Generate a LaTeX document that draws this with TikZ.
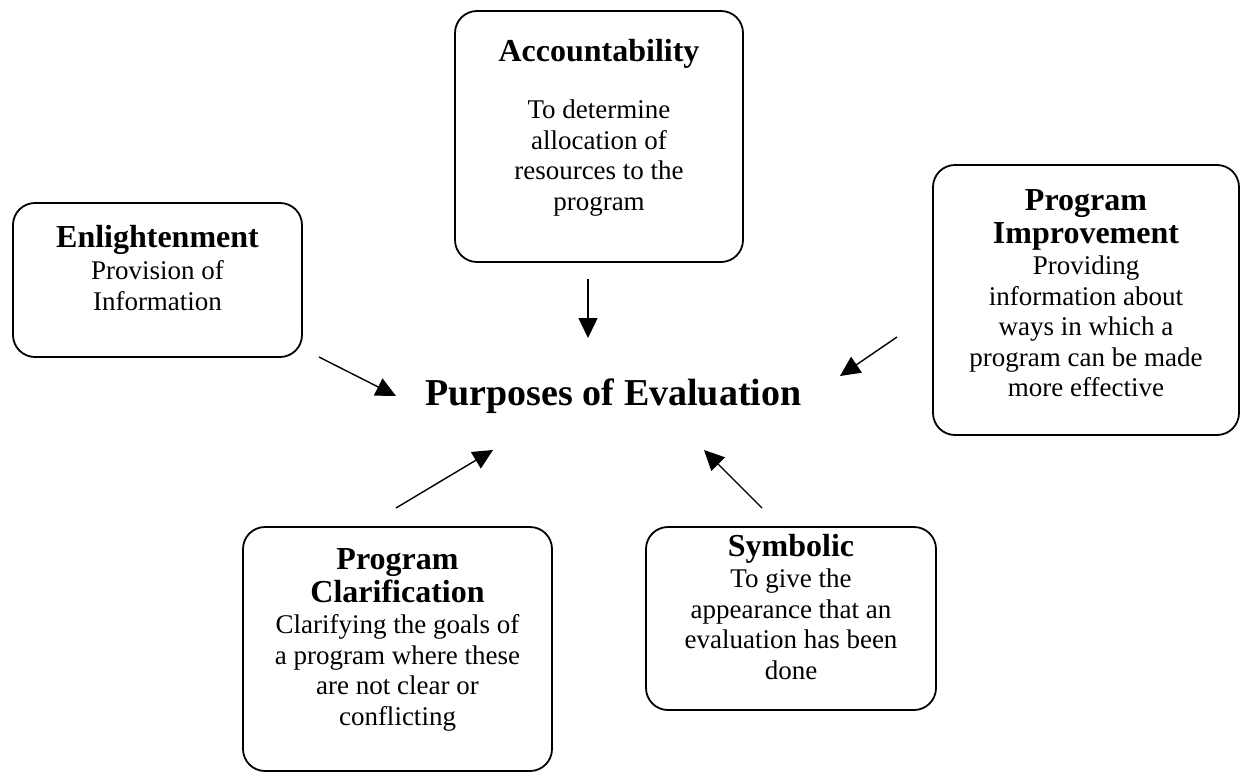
\documentclass[tikz,border=0pt]{standalone}
\usepackage{fontspec}
\setmainfont{Liberation Serif}
\usetikzlibrary{arrows.meta}

\newcommand\Ttl[1]{{\fontsize{32}{33}\selectfont\bfseries #1}}

\tikzset{
  purpbox/.style={draw, line width=1.8pt, rounded corners=22pt, align=center,
    inner sep=0pt, text depth=24pt, font=\fontsize{27}{30.5}\selectfont},
}

\begin{document}
\begin{tikzpicture}[x=1pt,y=-1pt,line width=1.4pt,>={Triangle[length=20pt,width=19pt]}]
        \useasboundingbox (0,0) rectangle (1248,774);
        % centre text
        \node[anchor=base,font=\fontsize{38}{40}\selectfont\bfseries] (purp) at (613.5,405) {Purposes of Evaluation};
        % the five boxes
        \node[purpbox,minimum width=288pt,minimum height=251pt] (acc) at (599,136.5)
            {\Ttl{Accountability}\\[27pt]To determine\\allocation of\\resources to the\\program};
        \node[purpbox,minimum width=289pt,minimum height=154pt] (enl) at (157.5,280)
            {\Ttl{Enlightenment}\\[1pt]Provision of\\[1pt]Information};
        \node[purpbox,minimum width=306pt,minimum height=270pt,text depth=13pt] (imp) at (1086,300)
            {\Ttl{Program}\\[2pt]\Ttl{Improvement}\\[1pt]Providing\\information about\\ways in which a\\program can be made\\more effective};
        \node[purpbox,minimum width=309pt,minimum height=244pt] (cla) at (397.5,649)
            {\Ttl{Program}\\[2pt]\Ttl{Clarification}\\[1pt]Clarifying the goals of\\a program where these\\are not clear or\\conflicting};
        \node[purpbox,minimum width=290pt,minimum height=183pt] (sym) at (791,618.5)
            {\Ttl{Symbolic}\\[1pt]To give the\\appearance that an\\evaluation has been\\done};
        % arrow ends
        \coordinate (accT) at (588,279);
        \coordinate (accH) at (588,338);
        \coordinate (enlT) at (319,357);
        \coordinate (enlH) at (396,396);
        \coordinate (impT) at (897,337);
        \coordinate (impH) at (840,376);
        \coordinate (claT) at (396,508);
        \coordinate (claH) at (493,450);
        \coordinate (symT) at (762,508);
        \coordinate (symH) at (704,450);
        \draw[->] (accT) -- (accH);
        \draw[->] (enlT) -- (enlH);
        \draw[->] (impT) -- (impH);
        \draw[->] (claT) -- (claH);
        \draw[->] (symT) -- (symH);
\end{tikzpicture}
\end{document}
